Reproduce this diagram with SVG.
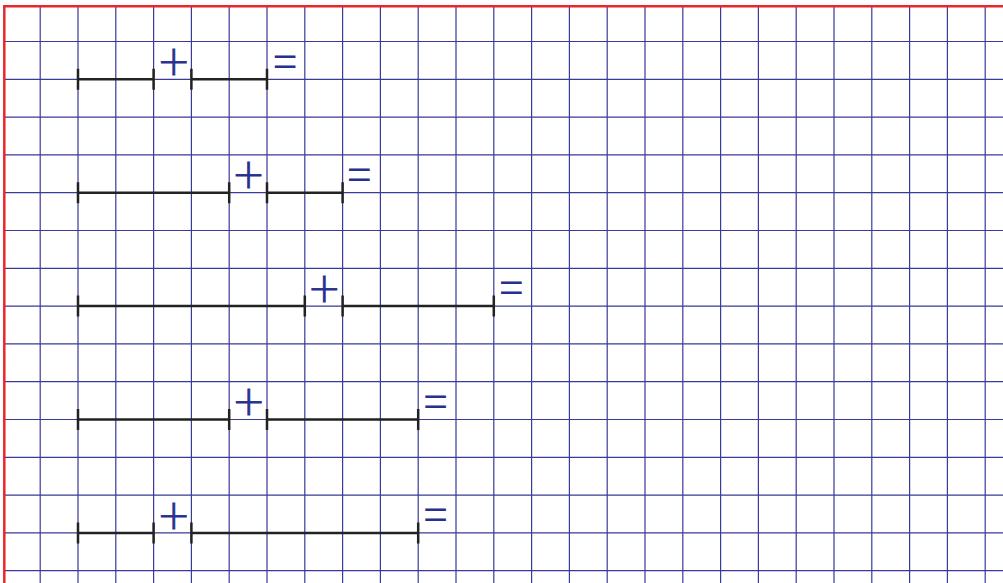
<svg xmlns="http://www.w3.org/2000/svg" width="1003" height="583" viewBox="0 0 1003 583">
<style>
.grid{stroke:#3a3a98;stroke-width:1.2;fill:none}
.border{stroke:#e8262e;stroke-width:2.5;fill:none}
.seg{stroke:#222;stroke-width:2.5;fill:none}
.op{font-family:"DejaVu Sans","Liberation Sans",sans-serif;font-weight:200;fill:#28308f;text-anchor:middle}
.plus{font-size:40px;stroke:#28308f;stroke-width:0.8}
.eq{font-size:33px}
</style>
<rect x="0" y="0" width="1003" height="583" fill="#fff"/>
<g id="grid">
<path class="grid" d="M40.2 6V583M78 6V583M115.8 6V583M153.6 6V583M191.4 6V583M229.2 6V583M267 6V583M304.8 6V583M342.6 6V583M380.4 6V583M418.2 6V583M456 6V583M493.8 6V583M531.6 6V583M569.4 6V583M607.2 6V583M645 6V583M682.8 6V583M720.6 6V583M758.4 6V583M796.2 6V583M834 6V583M871.8 6V583M909.6 6V583M947.4 6V583M985.2 6V583"/>
<path class="grid" d="M4 41.5H1003M4 79.3H1003M4 117.1H1003M4 154.9H1003M4 192.7H1003M4 230.5H1003M4 268.3H1003M4 306.1H1003M4 343.9H1003M4 381.7H1003M4 419.5H1003M4 457.3H1003M4 495.1H1003M4 532.9H1003M4 570.7H1003"/>
<path class="border" d="M4.3 583V6.2H1003"/>
</g>
<g id="row1">
<path class="seg" d="M78 79.3H153.6M191.4 79.3H267M78 68.8V89.8M153.6 68.8V89.8M191.4 68.8V89.8M267 68.8V89.8"/>
<text class="op plus" x="173.8" y="75">+</text>
<text class="op eq" transform="translate(285,60) scale(1,1.9)" y="11">=</text>
</g>
<g id="row2">
<path class="seg" d="M78 192.7H229.2M267 192.7H342.6M78 182.2V203.2M229.2 182.2V203.2M267 182.2V203.2M342.6 182.2V203.2"/>
<text class="op plus" x="248.4" y="188.4">+</text>
<text class="op eq" transform="translate(359.2,173.4) scale(1,1.9)" y="11">=</text>
</g>
<g id="row3">
<path class="seg" d="M78 306.1H304.8M342.6 306.1H493.8M78 295.6V316.6M304.8 295.6V316.6M342.6 295.6V316.6M493.8 295.6V316.6"/>
<text class="op plus" x="324.2" y="301.8">+</text>
<text class="op eq" transform="translate(511.4,286.5) scale(1,1.9)" y="11">=</text>
</g>
<g id="row4">
<path class="seg" d="M78 419.5H229.2M267 419.5H418.2M78 409V430M229.2 409V430M267 409V430M418.2 409V430"/>
<text class="op plus" x="248.8" y="415.2">+</text>
<text class="op eq" transform="translate(435.5,400) scale(1,1.9)" y="11">=</text>
</g>
<g id="row5">
<path class="seg" d="M78 532.9H153.6M191.4 532.9H418.2M78 522.4V543.4M153.6 522.4V543.4M191.4 522.4V543.4M418.2 522.4V543.4"/>
<text class="op plus" x="173.8" y="528.6">+</text>
<text class="op eq" transform="translate(435.5,513.4) scale(1,1.9)" y="11">=</text>
</g>
</svg>
